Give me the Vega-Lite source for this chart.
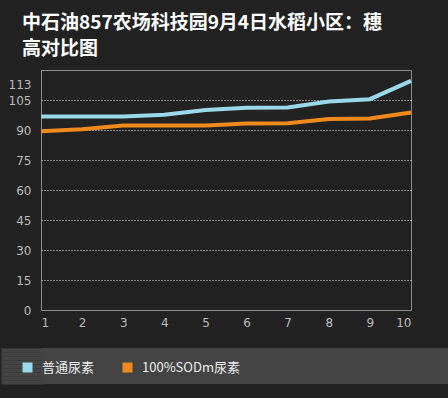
{
  "$schema": "https://vega.github.io/schema/vega-lite/v6.json",
  "background": "#222222",
  "padding": {"left": 0, "right": 0, "top": 13, "bottom": 13},
  "autosize": {"type": "pad"},
  "title": {
    "text": ["中石油857农场科技园9月4日水稻小区：穗", "高对比图"],
    "anchor": "start",
    "dx": 22,
    "fontSize": 19,
    "font": "Noto Sans CJK SC",
    "fontWeight": "bold",
    "color": "#ffffff",
    "lineHeight": 26,
    "offset": 11
  },
  "data": {
    "values": [
      {"point": 1, "series": "普通尿素", "value": 96.8},
      {"point": 2, "series": "普通尿素", "value": 96.8},
      {"point": 3, "series": "普通尿素", "value": 96.8},
      {"point": 4, "series": "普通尿素", "value": 97.6},
      {"point": 5, "series": "普通尿素", "value": 100},
      {"point": 6, "series": "普通尿素", "value": 101.1},
      {"point": 7, "series": "普通尿素", "value": 101.2},
      {"point": 8, "series": "普通尿素", "value": 104.2},
      {"point": 9, "series": "普通尿素", "value": 105.4},
      {"point": 10, "series": "普通尿素", "value": 114.6},
      {"point": 1, "series": "100%SODm尿素", "value": 89.4},
      {"point": 2, "series": "100%SODm尿素", "value": 90.4},
      {"point": 3, "series": "100%SODm尿素", "value": 92.2},
      {"point": 4, "series": "100%SODm尿素", "value": 92.3},
      {"point": 5, "series": "100%SODm尿素", "value": 92.3},
      {"point": 6, "series": "100%SODm尿素", "value": 93.3},
      {"point": 7, "series": "100%SODm尿素", "value": 93.4},
      {"point": 8, "series": "100%SODm尿素", "value": 95.5},
      {"point": 9, "series": "100%SODm尿素", "value": 95.7},
      {"point": 10, "series": "100%SODm尿素", "value": 98.7}
    ]
  },
  "columns": 1,
  "align": "none",
  "spacing": 18,
  "concat": [
    {
      "width": 370,
      "height": 240,
      "view": {"stroke": "#8c8c8c", "strokeWidth": 1, "fill": null},
      "mark": {"type": "line", "strokeWidth": 4, "strokeJoin": "miter"},
      "encoding": {
        "x": {
          "field": "point",
          "type": "quantitative",
          "scale": {"domain": [1, 10], "nice": false, "zero": false},
          "axis": {
            "values": [1, 2, 3, 4, 5, 6, 7, 8, 9, 10],
            "format": "d",
            "domain": false,
            "ticks": false,
            "grid": false,
            "labelPadding": 7,
            "title": null
          }
        },
        "y": {
          "field": "value",
          "type": "quantitative",
          "scale": {"domain": [0, 120], "nice": false},
          "axis": {
            "values": [0, 15, 30, 45, 60, 75, 90, 105, 113],
            "domain": false,
            "ticks": true,
            "tickSize": 40,
            "tickColor": "transparent",
            "labelPadding": -30,
            "grid": true,
            "gridColor": "#e8e8e8",
            "gridDash": [1, 2],
            "gridWidth": 1,
            "gridOpacity": {"condition": {"test": "datum.value === 0 || datum.value === 113", "value": 0}, "value": 1},
            "title": null
          }
        },
        "color": {
          "field": "series",
          "type": "nominal",
          "sort": null,
          "scale": {"domain": ["普通尿素", "100%SODm尿素"], "range": ["#99d9ea", "#f08a1c"]},
          "legend": {
            "title": null,
            "orient": "none",
            "direction": "horizontal",
            "legendX": -20,
            "legendY": 291,
            "symbolType": "square",
            "symbolSize": 25,
            "symbolStrokeWidth": 5,
            "symbolOpacity": 1,
            "labelFont": "Noto Sans CJK SC",
            "labelFontSize": 13,
            "labelColor": "#eeeeee",
            "labelOffset": 8,
            "columnPadding": 20
          }
        }
      }
    },
    {
      "width": 408,
      "height": 36,
      "view": {"fill": "#444444", "stroke": null},
      "mark": {"type": "text", "text": ""},
      "encoding": {
        "y": {
          "datum": 0.5,
          "type": "quantitative",
          "scale": {"domain": [0, 1], "nice": false, "zero": false},
          "axis": {
            "values": [0.0556, 0.1667, 0.2778, 0.3889, 0.5, 0.6111, 0.7222, 0.8333, 0.9444],
            "title": null,
            "labels": false,
            "domain": false,
            "grid": false,
            "ticks": true,
            "tickSize": 38,
            "tickWidth": 4.2,
            "tickColor": "#444444",
            "tickCap": "square",
            "tickRound": false
          }
        }
      }
    }
  ],
  "config": {
    "axis": {
      "labelColor": "#bbbbbb",
      "labelFontSize": 12,
      "labelFont": "DejaVu Sans"
    }
  }
}
